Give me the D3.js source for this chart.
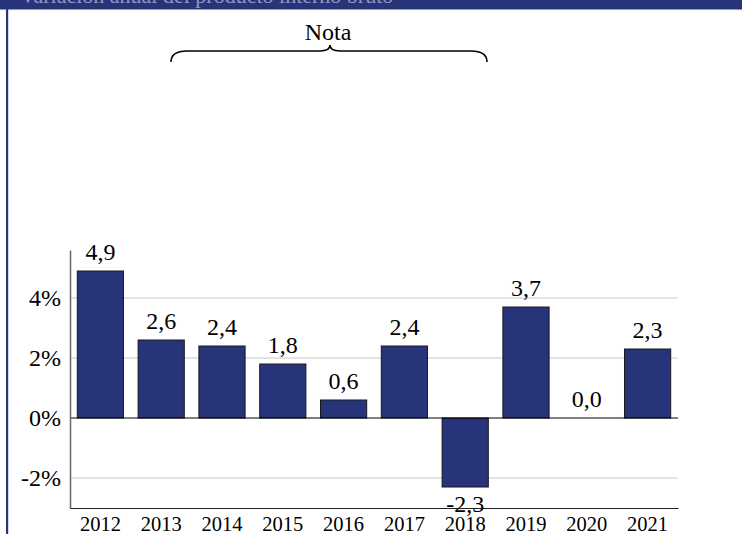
<!DOCTYPE html>
<html>
<head>
<meta charset="utf-8">
<script src="https://cdn.jsdelivr.net/npm/d3@7"></script>
<style>
  body { margin: 0; background: #fff; }
  svg { display: block; }
</style>
</head>
<body>
<svg id="chart" width="742" height="534"></svg>
<script>
var years = ["2012", "2013", "2014", "2015", "2016", "2017", "2018", "2019", "2020", "2021"];
var values = [4.9, 2.6, 2.4, 1.8, 0.6, 2.4, -2.3, 3.7, 0.0, 2.3];
var yTicks = [-2, 0, 2, 4];
var noteText = "Nota";
var headerText = "Variación anual del producto interno bruto";

var svg = d3.select("#chart"),
    W = 742, H = 534,
    navy = "#27347a",
    font = '"Liberation Serif", "Times New Roman", serif';

// header band and left frame line
svg.append("rect").attr("x", 0).attr("y", 0).attr("width", W).attr("height", 9.5).attr("fill", navy);
svg.append("text").attr("x", 20).attr("y", 2.5)
    .style("font-family", font).style("font-size", "22px").style("fill", "#8f97c2")
    .text(headerText);
svg.append("rect").attr("x", 6).attr("y", 9).attr("width", 2.2).attr("height", H - 9).attr("fill", navy);

var x = d3.scaleBand().domain(years).range([70, 678]).paddingInner(0.24).paddingOuter(0.12);
var y = d3.scaleLinear().domain([-3, 5.6]).range([508, 250]);

// gridlines
svg.append("g").selectAll("line").data(yTicks.filter(function (d) { return d !== 0; }))
  .enter().append("line")
    .attr("x1", 70).attr("x2", 678)
    .attr("y1", function (d) { return y(d); }).attr("y2", function (d) { return y(d); })
    .attr("stroke", "#c8c8c8").attr("stroke-width", 1);

// bars
svg.append("g").selectAll("rect").data(values)
  .enter().append("rect")
    .attr("x", function (d, i) { return x(years[i]); })
    .attr("width", x.bandwidth())
    .attr("y", function (d) { return y(Math.max(0, d)); })
    .attr("height", function (d) { return Math.abs(y(d) - y(0)); })
    .attr("fill", navy).attr("stroke", "#1a1a1a").attr("stroke-width", 1);

// zero line
svg.append("line").attr("x1", 70).attr("x2", 678).attr("y1", y(0)).attr("y2", y(0))
    .attr("stroke", "#000").attr("stroke-width", 1.2);

// y axis
var yAxis = svg.append("g").attr("transform", "translate(70,0)")
    .call(d3.axisLeft(y).tickValues(yTicks).tickSize(0).tickPadding(9)
        .tickFormat(function (d) { return d + "%"; }));
yAxis.select(".domain").attr("stroke", "#666").attr("stroke-width", 1.5);
yAxis.selectAll("text").style("font-family", font).style("font-size", "24px").attr("fill", "#000").attr("dy", "0.33em");

// x axis at bottom
var xAxis = svg.append("g").attr("transform", "translate(0," + y(-3) + ")")
    .call(d3.axisBottom(x).tickSize(0));
xAxis.select(".domain").attr("stroke", "#222").attr("stroke-width", 1.2);
xAxis.selectAll("text").style("font-family", font).style("font-size", "20.5px").attr("fill", "#000")
    .attr("y", 23).attr("dy", 0);

// value labels
svg.append("g").selectAll("text").data(values)
  .enter().append("text")
    .attr("x", function (d, i) { return x(years[i]) + x.bandwidth() / 2; })
    .attr("y", function (d) { return d < 0 ? y(d) + 25 : y(d) - 11; })
    .attr("text-anchor", "middle")
    .style("font-family", font).style("font-size", "24px").style("fill", "#000")
    .text(function (d) { return d.toFixed(1).replace(".", ","); });

// note with curly brace
var bx0 = 171, bx1 = 487, bmid = 330, by = 51, bh = 11;
svg.append("path")
    .attr("d", "M" + bx0 + "," + (by + bh) + " Q" + bx0 + "," + by + " " + (bx0 + 16) + "," + by +
        " L" + (bmid - 10) + "," + by + " Q" + bmid + "," + by + " " + bmid + "," + (by - 6) +
        " Q" + bmid + "," + by + " " + (bmid + 10) + "," + by +
        " L" + (bx1 - 16) + "," + by + " Q" + bx1 + "," + by + " " + bx1 + "," + (by + bh))
    .attr("fill", "none").attr("stroke", "#000").attr("stroke-width", 1.6);
svg.append("text").attr("x", 328).attr("y", 40).attr("text-anchor", "middle")
    .style("font-family", font).style("font-size", "24px").style("fill", "#000")
    .text(noteText);
</script>
</body>
</html>
